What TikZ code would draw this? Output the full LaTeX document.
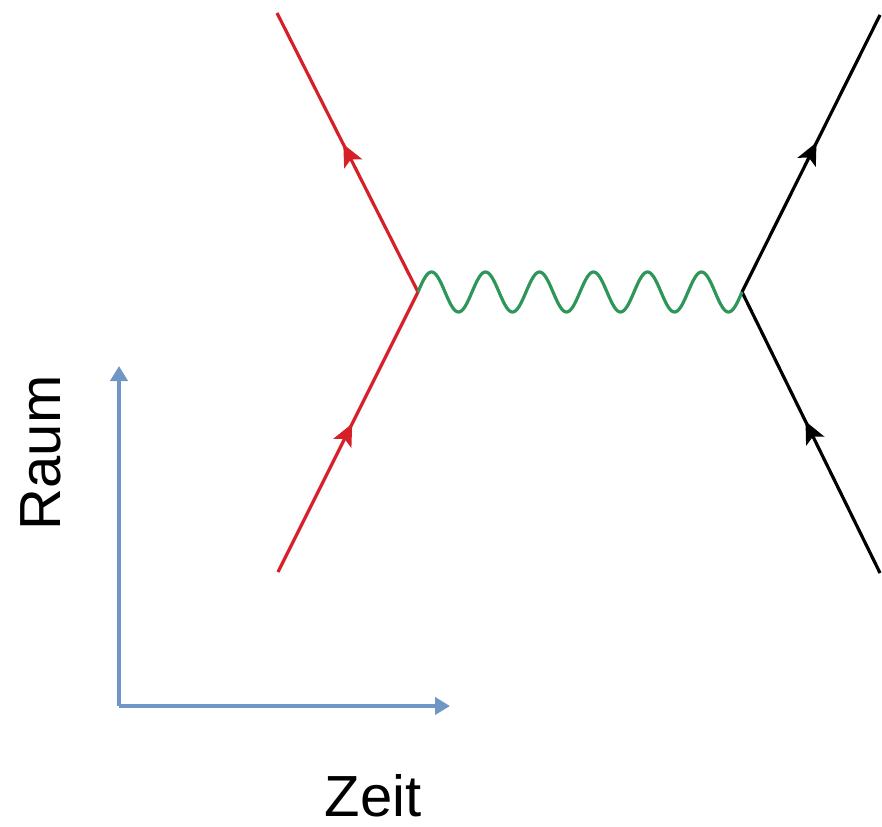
\documentclass[tikz,border=0pt]{standalone}
\usepackage{fontspec}
\setmainfont{Liberation Sans}
\usetikzlibrary{arrows.meta,decorations.markings}
\definecolor{fred}{RGB}{214,32,40}
\definecolor{fgreen}{RGB}{46,150,88}
\definecolor{fblue}{RGB}{112,150,198}
\tikzset{
  fermion/.style={line width=3.2pt, postaction={decorate},
    decoration={markings, mark=at position #1 with {\arrow{Stealth[length=22pt,width=20pt,inset=5pt]}}}},
  photon/.style={fgreen, line width=3.2pt, line join=round},
  axis/.style={fblue, line width=4pt, -{Triangle[length=15pt,width=17pt]}},
  lbl/.style={font=\fontsize{58}{68}\selectfont, inner sep=0pt}
}
\begin{document}
\begin{tikzpicture}[x=1pt,y=-1pt]
\useasboundingbox (0,0) rectangle (882,826);
\coordinate (v1) at (418,292);
\coordinate (v2) at (742,292);
\coordinate (rtop) at (277,13);
\coordinate (rbot) at (278,572);
\coordinate (btop) at (880,15);
\coordinate (bbot) at (880,573);
\coordinate (o) at (119,706);
\coordinate (yend) at (119,366);
\coordinate (xend) at (450,706);
\draw[fermion=0.53, fred] (rbot) -- (v1);
\draw[fermion=0.53, fred] (v1) -- (rtop);
\draw[fermion=0.54, black] (v2) -- (btop);
\draw[fermion=0.54, black] (bbot) -- (v2);
\begin{scope}[shift={(v1)}]
\draw[photon] plot[domain=0:324, samples=301] (\x,{-20*sin(\x/54*360)});
\end{scope}
\draw[axis] (o) -- (yend);
\draw[axis] (o) -- (xend);
\node[lbl, rotate=90] (raum) at (41,453) {Raum};
\node[lbl, anchor=base] (zeit) at (373,816) {Zeit};
\end{tikzpicture}
\end{document}
